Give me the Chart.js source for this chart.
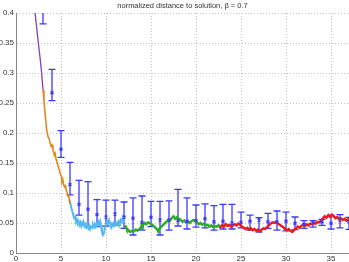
<!DOCTYPE html>
<html>
<head>
<meta charset="utf-8">
<script src="https://cdn.jsdelivr.net/npm/chart.js@4/dist/chart.umd.min.js"></script>
<style>
html,body{margin:0;padding:0;background:#fff;}
canvas{display:block;}
</style>
</head>
<body>
<canvas id="c" width="349" height="262"></canvas>
<script>
const titleText = "normalized distance to solution, \u03B2 = 0.7";
const xTicks = [0, 5, 10, 15, 20, 25, 30, 35];
const yTicks = [0, 0.05, 0.1, 0.15, 0.2, 0.25, 0.3, 0.35, 0.4];

const purpleX = [2.0, 2.1, 2.3, 2.5, 2.7, 2.85, 3.0];
const purpleY = [0.415, 0.402, 0.375, 0.348, 0.322, 0.300, 0.272];

const orangeX = [3.0,3.1,3.2,3.3,3.4,3.5,3.6,3.7,3.8,3.9,4.0,4.1,4.15,4.25,4.35,4.45,4.55,4.65,4.75,4.85,4.95,5.05,5.1,5.2,5.3,5.4,5.5,5.6,5.7,5.8,5.85,5.95,6.0];
const orangeY = [0.272,0.255,0.238,0.222,0.206,0.198,0.192,0.19,0.183,0.178,0.18,0.172,0.17,0.163,0.166,0.156,0.152,0.146,0.142,0.136,0.131,0.127,0.118,0.122,0.113,0.11,0.112,0.104,0.1,0.094,0.098,0.085,0.082];

const blueX = [5.95,6.05,6.15,6.25,6.35,6.45,6.55,6.65,6.75,6.85,6.95,7.05,7.15,7.25,7.35,7.45,7.55,7.65,7.75,7.85,7.95,8.05,8.15,8.25,8.35,8.45,8.55,8.65,8.75,8.85,8.95,9.05,9.15,9.25,9.35,9.45,9.55,9.65,9.75,9.85,9.95,10.05,10.15,10.25,10.35,10.45,10.55,10.65,10.75,10.85,10.95,11.05,11.15,11.25,11.35,11.45,11.55,11.65,11.75,11.85,11.95,12.05,12.15];
const blueY = [0.088,0.082,0.075,0.07,0.064,0.058,0.062,0.052,0.056,0.049,0.053,0.047,0.051,0.045,0.05,0.046,0.049,0.044,0.048,0.043,0.046,0.041,0.045,0.04,0.044,0.042,0.047,0.043,0.048,0.044,0.049,0.046,0.052,0.048,0.053,0.045,0.035,0.03,0.032,0.04,0.044,0.048,0.052,0.049,0.055,0.05,0.046,0.049,0.045,0.049,0.046,0.05,0.047,0.051,0.048,0.053,0.05,0.055,0.052,0.058,0.054,0.06,0.058];

const greenX = [12.15,12.3,12.4,12.5,12.7,12.9,13.1,13.3,13.5,13.7,13.9,14.0,14.1,14.3,14.5,14.7,14.9,15.1,15.3,15.5,15.7,15.8,15.9,16.1,16.3,16.5,16.7,16.9,17.1,17.3,17.5,17.7,17.9,18.1,18.3,18.5,18.7,18.9,19.1,19.3,19.5,19.7,19.9,20.1,20.3,20.5,20.7,20.9,21.1,21.3,21.5,21.7,21.9,22.1,22.3,22.5,22.7];
const greenY = [0.046,0.04,0.036,0.038,0.035,0.037,0.036,0.039,0.037,0.04,0.043,0.049,0.046,0.05,0.048,0.051,0.049,0.047,0.045,0.042,0.039,0.036,0.04,0.043,0.046,0.049,0.052,0.055,0.054,0.058,0.061,0.057,0.06,0.057,0.055,0.052,0.054,0.051,0.053,0.05,0.053,0.055,0.054,0.051,0.048,0.05,0.047,0.049,0.046,0.047,0.044,0.046,0.043,0.045,0.044,0.046,0.045];

const redX = [22.5,22.7,22.9,23.1,23.3,23.5,23.7,23.9,24.1,24.3,24.5,24.7,24.9,25.1,25.3,25.5,25.7,25.9,26.1,26.3,26.5,26.7,26.9,27.1,27.3,27.5,27.7,27.9,28.1,28.3,28.5,28.7,28.9,29.1,29.3,29.5,29.7,29.9,30.1,30.3,30.5,30.7,30.9,31.1,31.3,31.5,31.7,31.9,32.1,32.3,32.5,32.7,32.9,33.1,33.3,33.5,33.7,33.9,34.1,34.3,34.5,34.7,34.9,35.1,35.3,35.5,35.7,35.9,36.1,36.3,36.5,36.7,36.9,37.1];
const redY = [0.045,0.043,0.046,0.044,0.048,0.045,0.047,0.044,0.046,0.048,0.046,0.049,0.047,0.044,0.042,0.04,0.042,0.039,0.041,0.038,0.04,0.037,0.039,0.036,0.039,0.041,0.04,0.043,0.046,0.049,0.051,0.05,0.052,0.049,0.047,0.045,0.043,0.04,0.038,0.04,0.037,0.035,0.038,0.041,0.044,0.042,0.045,0.047,0.045,0.048,0.046,0.049,0.048,0.05,0.049,0.052,0.051,0.054,0.058,0.061,0.059,0.063,0.06,0.064,0.061,0.058,0.06,0.056,0.058,0.055,0.057,0.054,0.056,0.053];

const errX    = [3,4,5,6,7,8,9,10,11,12,13,14,15,16,17,18,19,20,21,22,23,24,25,26,27,28,29,30,31,32,33,34,35,36,37];
const errMean = [0.44,0.267,0.173,0.114,0.081,0.073,0.064,0.06,0.065,0.06,0.058,0.051,0.0595,0.055,0.055,0.054,0.053,0.054,0.057,0.052,0.053,0.05,0.051,0.053,0.055,0.052,0.052,0.053,0.0495,0.048,0.0505,0.052,0.0495,0.055,0.052];
const errLow  = [0.382,0.254,0.1595,0.097,0.063,0.044,0.044,0.045,0.046,0.041,0.03,0.038,0.044,0.03,0.038,0.045,0.04,0.043,0.042,0.038,0.04,0.04,0.042,0.038,0.035,0.041,0.038,0.037,0.039,0.041,0.043,0.046,0.04,0.042,0.0395];
const errHigh = [0.5,0.306,0.204,0.151,0.121,0.119,0.089,0.088,0.088,0.085,0.092,0.095,0.086,0.086,0.087,0.106,0.092,0.08,0.082,0.079,0.081,0.081,0.068,0.063,0.059,0.066,0.07,0.068,0.06,0.054,0.054,0.056,0.063,0.064,0.0595];

const pts = (xs, ys) => xs.map((x, i) => ({x: x, y: ys[i]}));
const ERR_COLOR = '#3a3aff';

const errorBarPlugin = {
  id: 'errorBars',
  beforeDatasetsDraw(chart) {
    const {ctx, chartArea, scales: {x, y}} = chart;
    ctx.save();
    ctx.beginPath();
    ctx.rect(chartArea.left, chartArea.top, chartArea.right - chartArea.left, chartArea.bottom - chartArea.top);
    ctx.clip();
    ctx.strokeStyle = ERR_COLOR;
    ctx.lineWidth = 1.3;
    errX.forEach((xv, i) => {
      const px = x.getPixelForValue(xv);
      const pLo = y.getPixelForValue(errLow[i]);
      const pHi = y.getPixelForValue(errHigh[i]);
      ctx.beginPath();
      ctx.moveTo(px, pLo); ctx.lineTo(px, pHi);
      ctx.moveTo(px - 3.5, pLo); ctx.lineTo(px + 3.5, pLo);
      ctx.moveTo(px - 3.5, pHi); ctx.lineTo(px + 3.5, pHi);
      ctx.stroke();
    });
    ctx.restore();
  }
};

const lineDs = (xs, ys, color, w) => ({
  type: 'line', data: pts(xs, ys), borderColor: color, borderWidth: w,
  pointRadius: 0, tension: 0, fill: false, order: 1
});

new Chart(document.getElementById('c'), {
  type: 'line',
  data: {
    datasets: [
      {type: 'scatter', data: pts(errX, errMean), pointStyle: 'crossRot', pointRadius: 2,
       borderColor: ERR_COLOR, backgroundColor: ERR_COLOR, borderWidth: 1.5, order: 0},
      lineDs(purpleX, purpleY, '#8a3ea8', 1.3),
      lineDs(orangeX, orangeY, '#dd8a22', 1.6),
      lineDs(blueX, blueY, '#55b8f0', 2),
      lineDs(greenX, greenY, '#2eaa2e', 2.4),
      lineDs(redX, redY, '#f01818', 2.4)
    ]
  },
  options: {
    responsive: false,
    animation: false,
    devicePixelRatio: 1,
    layout: {padding: 0, autoPadding: false},
    plugins: {
      legend: {display: false},
      tooltip: {enabled: false},
      title: {
        display: true, text: titleText, fullSize: false,
        color: '#333', font: {family: 'Liberation Sans', size: 7.5, weight: 'normal'},
        padding: {top: 1, bottom: 3}
      }
    },
    scales: {
      x: {
        type: 'linear', min: 0, max: 37,
        afterBuildTicks: s => { s.ticks = xTicks.map(v => ({value: v})); },
        afterFit: s => { s.height = 9; s.paddingLeft = 0; s.paddingRight = 0; },
        ticks: {includeBounds: false, padding: 1, color: '#333', maxRotation: 0,
                font: {family: 'Liberation Sans', size: 8}, callback: v => String(v)},
        grid: {color: '#c4c4c4', drawTicks: false, lineWidth: 1},
        border: {color: '#888', dash: [1, 2]}
      },
      y: {
        type: 'linear', min: 0, max: 0.4,
        afterBuildTicks: s => { s.ticks = yTicks.map(v => ({value: v})); },
        afterFit: s => { s.width = 16; s.paddingTop = 0; s.paddingBottom = 0; },
        ticks: {includeBounds: false, padding: 2, color: '#333',
                font: {family: 'Liberation Sans', size: 8}, callback: v => String(+v.toFixed(2))},
        grid: {color: '#c4c4c4', drawTicks: false, lineWidth: 1},
        border: {color: '#888', dash: [1, 2]}
      }
    }
  },
  plugins: [errorBarPlugin]
});
</script>
</body>
</html>
